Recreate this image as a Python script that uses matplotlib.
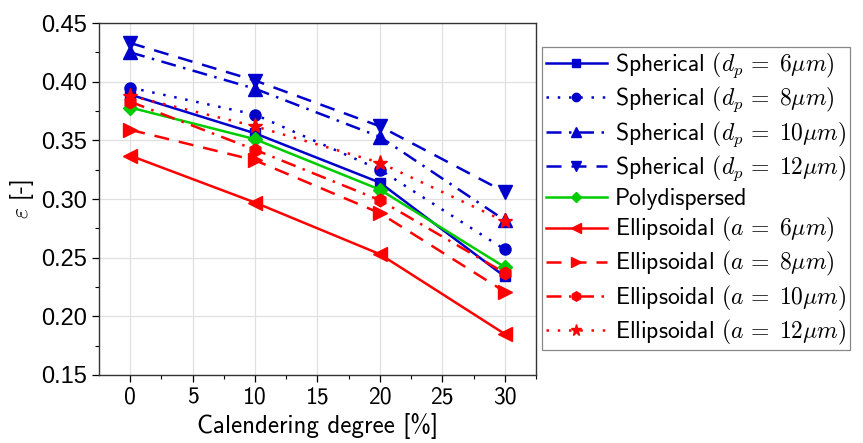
import matplotlib
matplotlib.use("Agg")
import matplotlib.pyplot as plt

plt.rcParams['mathtext.fontset'] = 'cm'
plt.rcParams['font.family'] = ['cmss10', 'DejaVu Sans']
plt.rcParams['axes.unicode_minus'] = False
plt.rcParams['axes.formatter.use_mathtext'] = True

calendering = [0, 10, 20, 30]
x_tick_labels = ['0', '5', '10', '15', '20', '25', '30']
y_tick_labels = ['0.15', '0.20', '0.25', '0.30', '0.35', '0.40', '0.45']

sph_6 = [0.389, 0.356, 0.314, 0.234]
sph_8 = [0.395, 0.372, 0.325, 0.257]
sph_10 = [0.425, 0.394, 0.353, 0.282]
sph_12 = [0.433, 0.401, 0.362, 0.306]
poly = [0.378, 0.351, 0.308, 0.242]
ell_6 = [0.337, 0.297, 0.253, 0.185]
ell_8 = [0.359, 0.333, 0.288, 0.221]
ell_10 = [0.383, 0.342, 0.299, 0.237]
ell_12 = [0.388, 0.362, 0.331, 0.281]

labels = [
    r'Spherical $(d_p \,=\; 6\mu m)$',
    r'Spherical $(d_p \,=\; 8\mu m)$',
    r'Spherical $(d_p \,=\; 10\mu m)$',
    r'Spherical $(d_p \,=\; 12\mu m)$',
    'Polydispersed',
    r'Ellipsoidal $(a \,=\; 6\mu m)$',
    r'Ellipsoidal $(a \,=\; 8\mu m)$',
    r'Ellipsoidal $(a \,=\; 10\mu m)$',
    r'Ellipsoidal $(a \,=\; 12\mu m)$',
]
series = [sph_6, sph_8, sph_10, sph_12, poly, ell_6, ell_8, ell_10, ell_12]

blue = '#0000cc'
red = '#ff0000'
green = '#00cc00'
dotted = (0, (1, 3.5))
dashed = (0, (6, 4))
dashdot = (0, (6, 3, 1, 3))
styles = [
    (blue, '-', 's', 7),
    (blue, dotted, 'o', 8),
    (blue, dashdot, '^', 10),
    (blue, dashed, 'v', 10),
    (green, '-', 'D', 7),
    (red, '-', '<', 10),
    (red, dashed, '>', 10),
    (red, dashdot, 'h', 9),
    (red, dotted, '*', 11),
]

fig = plt.figure(figsize=(8.63, 4.43), dpi=100)
ax = fig.add_axes([0.1147, 0.1535, 0.5063, 0.7945])

handles = []
for vals, lab, (c, ls, m, ms) in zip(series, labels, styles):
    h, = ax.plot(calendering, vals, color=c, linestyle=ls, marker=m,
                 markersize=ms, linewidth=1.8, label=lab)
    handles.append(h)

ax.set_xlim(-2.5, 32.5)
ax.set_ylim(0.15, 0.45)
ax.set_xticks([0, 5, 10, 15, 20, 25, 30])
ax.set_xticklabels(x_tick_labels, fontsize=17)
ax.set_xticks([2.5, 7.5, 12.5, 17.5, 22.5, 27.5, 32.5], minor=True)
ax.set_yticks([0.15, 0.20, 0.25, 0.30, 0.35, 0.40, 0.45])
ax.set_yticks([0.175, 0.225, 0.275, 0.325, 0.375, 0.425], minor=True)
ax.set_yticklabels(y_tick_labels, fontfamily='Liberation Sans', fontsize=17)
ax.tick_params(which='major', direction='out', length=5, width=0.9)
ax.tick_params(which='minor', direction='out', length=3, width=0.8)
ax.grid(True, which='major', color='#e0e0e0', linewidth=0.9)
ax.set_axisbelow(True)
for s in ax.spines.values():
    s.set_linewidth(1.0)
    s.set_color('#333333')

ax.set_xlabel('Calendering degree [%]', fontsize=18, labelpad=3)
ax.set_ylabel(r'$\varepsilon$ [-]', fontsize=17, labelpad=4)

leg = fig.legend(handles=handles, loc='upper left',
                 bbox_to_anchor=(0.628, 0.894), bbox_transform=fig.transFigure,
                 borderaxespad=0, fontsize=17, handlelength=2.6,
                 handletextpad=0.35, labelspacing=0.21, borderpad=0.15,
                 fancybox=False, edgecolor='#888888', framealpha=1,
                 markerscale=0.75)
leg.get_frame().set_linewidth(0.9)

fig.savefig('out.png', dpi=100)
